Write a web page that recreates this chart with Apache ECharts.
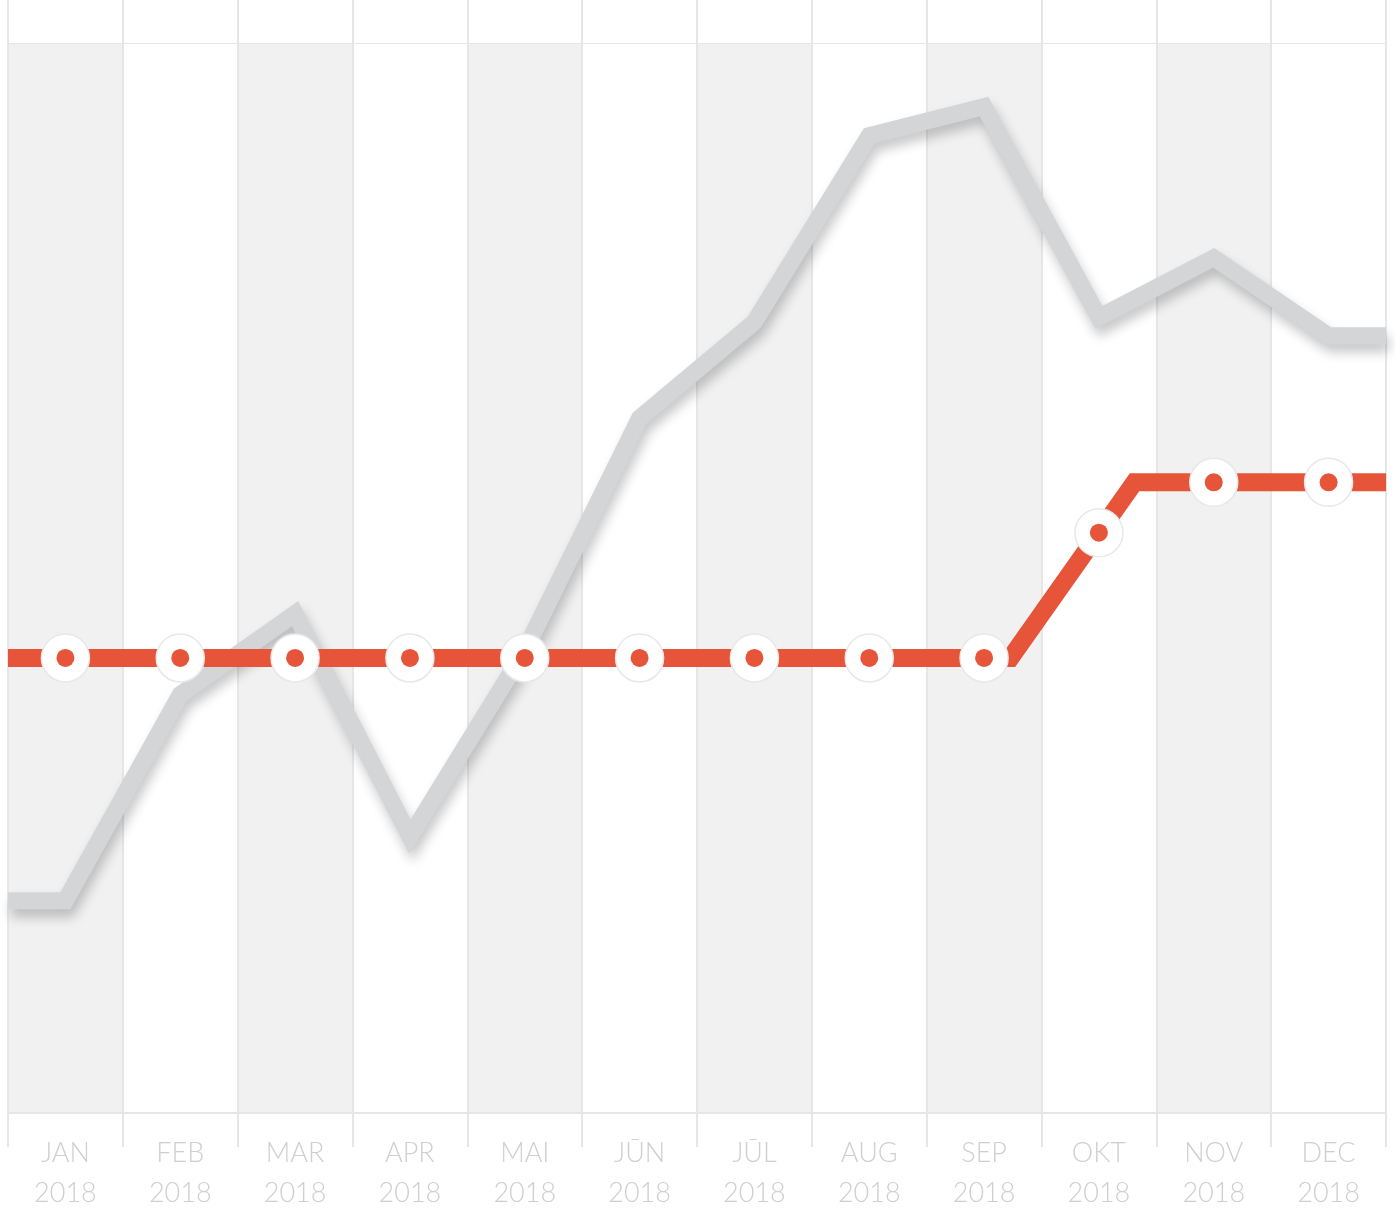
<!DOCTYPE html>
<html>
<head>
<meta charset="utf-8">
<script src="https://cdn.jsdelivr.net/npm/echarts@6/dist/echarts.min.js"></script>
<style>
html,body{margin:0;padding:0;background:#fff;}
#chart{width:1400px;height:1209px;}
</style>
</head>
<body>
<div id="chart"></div>
<script>
// ---- data ----
var months = ['JAN','FEB','MAR','APR','MAI','JŪN','JŪL','AUG','SEP','OKT','NOV','DEC'];
var year = '2018';
var grayValues = [1.39, 2.74, 3.27, 1.81, 3.03, 4.55, 5.18, 6.40, 6.59, 5.21, 5.60, 5.09];
var redMarkers = [2.98, 2.98, 2.98, 2.98, 2.98, 2.98, 2.98, 2.98, 2.98, 3.80, 4.13, 4.13];
// red line path (month position, value)
var redPathX = [0, 8.73, 9.81, 12];
var redPathY = [2.98, 2.98, 4.13, 4.13];
var yTicks = [0, 1, 2, 3, 4, 5, 6, 7];

// ---- build ----
var grayLine = [[0, grayValues[0]]];
grayValues.forEach(function (v, i) { grayLine.push([i + 0.5, v]); });
grayLine.push([months.length, grayValues[grayValues.length - 1]]);
var redLine = redPathX.map(function (x, i) { return [x, redPathY[i]]; });
var markerData = redMarkers.map(function (v, i) { return [i + 0.5, v]; });

var gridColor = '#e6e6e6';
var chart = echarts.init(document.getElementById('chart'), null, {renderer: 'canvas'});
chart.setOption({
  animation: false,
  backgroundColor: '#ffffff',
  grid: {left: 8, right: 14, top: 44, bottom: 96, containLabel: false, outerBoundsMode: 'none'},
  xAxis: [
    {
      type: 'category', data: months, position: 'bottom', boundaryGap: true,
      axisLine: {show: true, lineStyle: {color: gridColor, width: 2}},
      axisTick: {show: true, length: 34, lineStyle: {color: gridColor, width: 2}},
      splitLine: {show: true, lineStyle: {color: gridColor, width: 2}},
      splitArea: {show: true, areaStyle: {color: ['#f1f1f1', '#ffffff']}},
      axisLabel: {
        margin: 20, color: '#cfcfcf', fontSize: 27, lineHeight: 40,
        fontFamily: 'Lato, "Open Sans", sans-serif', fontWeight: 300,
        formatter: function (v) { return v + '\n' + year; }
      }
    },
    {
      type: 'category', data: months, position: 'top', boundaryGap: true,
      axisLine: {show: false},
      axisTick: {show: true, length: 44, lineStyle: {color: gridColor, width: 2}},
      axisLabel: {show: false},
      splitLine: {show: false}
    },
    {
      type: 'value', min: 0, max: months.length, show: false, position: 'bottom'
    }
  ],
  yAxis: {
    type: 'value', min: yTicks[0], max: yTicks[yTicks.length - 1], interval: 1,
    axisLine: {show: false}, axisTick: {show: false}, axisLabel: {show: false},
    splitLine: {show: true, lineStyle: {color: gridColor, width: 2}}
  },
  series: [
    {
      type: 'line', xAxisIndex: 2, data: grayLine, showSymbol: false, z: 3,
      lineStyle: {color: '#d4d5d7', width: 17, join: 'miter', miterLimit: 20, cap: 'butt',
        shadowColor: 'rgba(0,0,0,0.22)', shadowBlur: 12, shadowOffsetX: 3, shadowOffsetY: 8}
    },
    {
      type: 'line', xAxisIndex: 2, data: redLine, showSymbol: false, z: 4,
      lineStyle: {color: '#e6543a', width: 18, join: 'miter', cap: 'butt'}
    },
    {
      type: 'scatter', xAxisIndex: 2, data: markerData, symbol: 'circle', symbolSize: 48, z: 5,
      itemStyle: {color: '#ffffff', opacity: 1, borderColor: '#e8e8e8', borderWidth: 1.5}
    },
    {
      type: 'scatter', xAxisIndex: 2, data: markerData, symbol: 'circle', symbolSize: 18, z: 6,
      itemStyle: {color: '#e6543a', opacity: 1}
    }
  ]
});
</script>
</body>
</html>
